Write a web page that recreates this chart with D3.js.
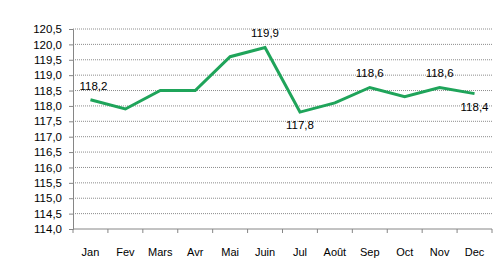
<!DOCTYPE html>
<html>
<head>
<meta charset="utf-8">
<script src="https://cdn.jsdelivr.net/npm/d3@7"></script>
<style>
  body { margin: 0; background: #fff; }
  text { font-family: "Liberation Sans", Arial, sans-serif; font-size: 11px; fill: #000; }
</style>
</head>
<body>
<div class="chart"></div>
<script>
var months = ["Jan", "Fev", "Mars", "Avr", "Mai", "Juin", "Jul", "Août", "Sep", "Oct", "Nov", "Dec"];
var values = [118.2, 117.9, 118.5, 118.5, 119.6, 119.9, 117.8, 118.1, 118.6, 118.3, 118.6, 118.4];
// which points carry a value label, and where
var labelPos = ["above", null, null, null, null, "above", "below", null, "above", null, "above", "below"];
var yTicks = d3.range(114, 120.51, 0.5);

var svgWidth = 498;
var svgHeight = 264;
var margin = { top: 29, right: 6, bottom: 35, left: 73 };
var width = svgWidth - margin.left - margin.right;
var height = svgHeight - margin.top - margin.bottom;

var svg = d3.select(".chart")
  .append("svg")
  .attr("width", svgWidth)
  .attr("height", svgHeight);

var chartGroup = svg.append("g").attr("transform", `translate(${margin.left}, ${margin.top})`);

var x = d3.scaleBand().domain(months).range([0, width]);
var y = d3.scaleLinear().domain([114, 120.5]).range([height, 0]);

var fmt = d => d3.format(".1f")(d).replace(".", ",");

// gridlines
chartGroup.selectAll(".grid")
  .data(yTicks.slice(1))
  .enter()
  .append("line")
  .attr("x1", 0)
  .attr("x2", width)
  .attr("y1", d => y(d))
  .attr("y2", d => y(d))
  .attr("stroke", "#8c8c8c")
  .attr("stroke-width", 1)
  .attr("stroke-dasharray", "1,1");

// y axis
var yaxis = d3.axisLeft(y).tickValues(yTicks).tickFormat(fmt).tickSize(4).tickPadding(7);
var gy = chartGroup.append("g").call(yaxis);
gy.selectAll("path, line").attr("stroke", "#868686");
gy.selectAll("text").style("font-size", "11.5px");

// x axis
var xTickPos = d3.range(months.length + 1).map(i => i * x.bandwidth());
var gx = chartGroup.append("g").attr("transform", `translate(0, ${height})`);
gx.append("line").attr("x1", 0).attr("x2", width).attr("stroke", "#868686");
gx.selectAll(".tk")
  .data(xTickPos)
  .enter()
  .append("line")
  .attr("x1", d => d).attr("x2", d => d)
  .attr("y1", 0).attr("y2", 4)
  .attr("stroke", "#868686");
gx.selectAll(".lbl")
  .data(months)
  .enter()
  .append("text")
  .attr("x", d => x(d) + x.bandwidth() / 2)
  .attr("y", 27)
  .attr("text-anchor", "middle")
  .text(d => d);

// line
var line = d3.line()
  .x((d, i) => x(months[i]) + x.bandwidth() / 2)
  .y(d => y(d));

chartGroup.append("path")
  .datum(values)
  .attr("d", line)
  .attr("fill", "none")
  .attr("stroke", "#1fa45a")
  .attr("stroke-width", 3)
  .attr("stroke-linejoin", "miter");

// data labels
var labeled = months.map((m, i) => ({ m: m, v: values[i], pos: labelPos[i] }))
  .filter(d => d.pos);

chartGroup.selectAll(".dl")
  .data(labeled)
  .enter()
  .append("text")
  .attr("x", d => x(d.m) + x.bandwidth() / 2 + (d.m == "Jan" ? 3 : 0))
  .attr("y", d => d.pos == "above" ? y(d.v) - 10 : y(d.v) + 17)
  .attr("text-anchor", "middle")
  .style("font-size", "11.5px")
  .text(d => fmt(d.v));
</script>
</body>
</html>
